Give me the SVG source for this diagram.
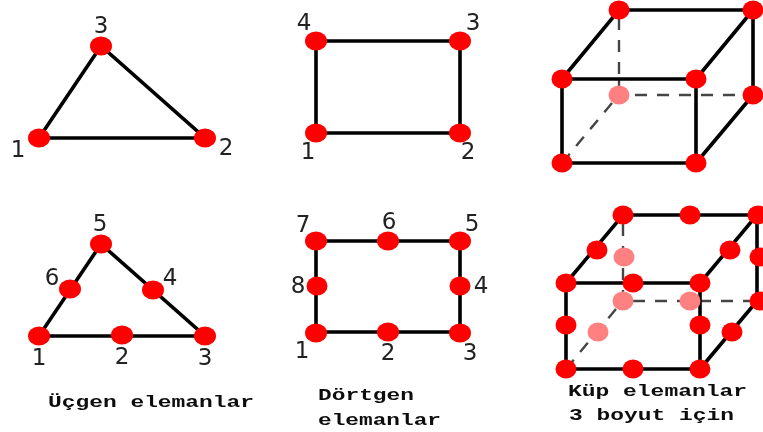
<svg xmlns="http://www.w3.org/2000/svg" width="763" height="432" viewBox="0 0 763 432">
<defs><filter id="soft" filterUnits="userSpaceOnUse" x="0" y="0" width="763" height="432"><feGaussianBlur stdDeviation="0.55"/></filter></defs>
<style>
.e{stroke:#000;stroke-width:3.6;fill:none}
.d{stroke:#444;stroke-width:2.4;fill:none;stroke-dasharray:12 10}
.n{fill:#f00}
.p{fill:#ff8080}
.l{font-family:"DejaVu Sans",sans-serif;font-size:23px;fill:#222;text-anchor:middle}
.c{font-family:"Liberation Mono",monospace;font-weight:bold;font-size:17px;fill:#111}
ellipse,text,path{filter:url(#soft)}
</style>
<rect width="763" height="432" fill="#fff"/>
<g id="connectors">
<path class="e" d="M39 138L101 46L205 138Z"/>
<path class="e" d="M316 41H460V133H316Z"/>
<path class="d" d="M619 18V79"/>
<path class="d" stroke-dasharray="12 11" d="M635 95H753"/>
<path class="d" d="M619 79V95"/>
<path class="d" d="M612 103L562 163"/>
<path class="e" d="M562 79H696V163H562Z M562 79L619 10H753L696 79 M753 10V95L696 163"/>
<path class="e" d="M39 336L101 244L205 336Z"/>
<path class="e" d="M316 241H460V332H316Z"/>
<path class="d" d="M623 224V301"/>
<path class="d" d="M633 301H757"/>
<path class="d" d="M616 309L566 369"/>
<path class="e" d="M566 283H700V369H566Z M566 283L623 215H757L700 283 M757 215V301L700 369"/>
</g>
<g id="tri3-1"><ellipse class="n" cx="39" cy="138" rx="11" ry="9.5"/><text class="l" x="18" y="157">1</text></g>
<g id="tri3-2"><ellipse class="n" cx="205" cy="138" rx="11" ry="9.5"/><text class="l" x="226" y="155">2</text></g>
<g id="tri3-3"><ellipse class="n" cx="101" cy="46" rx="11" ry="9.5"/><text class="l" x="101" y="33">3</text></g>
<g id="quad4-1"><ellipse class="n" cx="316" cy="133" rx="11" ry="9.5"/><text class="l" x="308" y="159">1</text></g>
<g id="quad4-2"><ellipse class="n" cx="460" cy="133" rx="11" ry="9.5"/><text class="l" x="468" y="159">2</text></g>
<g id="quad4-3"><ellipse class="n" cx="460" cy="41" rx="11" ry="9.5"/><text class="l" x="473" y="30">3</text></g>
<g id="quad4-4"><ellipse class="n" cx="316" cy="41" rx="11" ry="9.5"/><text class="l" x="304" y="30">4</text></g>
<g id="cube8-1"><ellipse class="n" cx="619" cy="10" rx="10.5" ry="9.5"/></g>
<g id="cube8-2"><ellipse class="n" cx="753" cy="10" rx="10.5" ry="9.5"/></g>
<g id="cube8-3"><ellipse class="n" cx="562" cy="79" rx="10.5" ry="9.5"/></g>
<g id="cube8-4"><ellipse class="n" cx="696" cy="79" rx="10.5" ry="9.5"/></g>
<g id="cube8-5"><ellipse class="p" cx="619" cy="95" rx="10.5" ry="9.5"/></g>
<g id="cube8-6"><ellipse class="n" cx="753" cy="95" rx="10.5" ry="9.5"/></g>
<g id="cube8-7"><ellipse class="n" cx="562" cy="163" rx="10.5" ry="9.5"/></g>
<g id="cube8-8"><ellipse class="n" cx="696" cy="163" rx="10.5" ry="9.5"/></g>
<g id="tri6-1"><ellipse class="n" cx="39" cy="336" rx="11" ry="9.5"/><text class="l" x="39" y="365">1</text></g>
<g id="tri6-2"><ellipse class="n" cx="122" cy="335" rx="11" ry="9.5"/><text class="l" x="122" y="364">2</text></g>
<g id="tri6-3"><ellipse class="n" cx="205" cy="336" rx="11" ry="9.5"/><text class="l" x="205" y="365">3</text></g>
<g id="tri6-4"><ellipse class="n" cx="153" cy="290" rx="11" ry="9.5"/><text class="l" x="170" y="285">4</text></g>
<g id="tri6-5"><ellipse class="n" cx="101" cy="244" rx="11" ry="9.5"/><text class="l" x="100" y="231">5</text></g>
<g id="tri6-6"><ellipse class="n" cx="70" cy="289" rx="11" ry="9.5"/><text class="l" x="52" y="285">6</text></g>
<g id="quad8-1"><ellipse class="n" cx="316" cy="333" rx="11" ry="9.5"/><text class="l" x="302" y="358">1</text></g>
<g id="quad8-2"><ellipse class="n" cx="388" cy="332" rx="11" ry="9.5"/><text class="l" x="388" y="360">2</text></g>
<g id="quad8-3"><ellipse class="n" cx="460" cy="333" rx="11" ry="9.5"/><text class="l" x="470" y="360">3</text></g>
<g id="quad8-4"><ellipse class="n" cx="460" cy="286" rx="10.5" ry="9.5"/><text class="l" x="481" y="293">4</text></g>
<g id="quad8-5"><ellipse class="n" cx="460" cy="241" rx="11" ry="9.5"/><text class="l" x="472" y="231">5</text></g>
<g id="quad8-6"><ellipse class="n" cx="388" cy="241" rx="11" ry="9.5"/><text class="l" x="389" y="229">6</text></g>
<g id="quad8-7"><ellipse class="n" cx="316" cy="241" rx="11" ry="9.5"/><text class="l" x="303" y="232">7</text></g>
<g id="quad8-8"><ellipse class="n" cx="317" cy="286" rx="10.5" ry="9.5"/><text class="l" x="298" y="293">8</text></g>
<g id="cube20-1"><ellipse class="n" cx="623" cy="215" rx="10.5" ry="9.5"/></g>
<g id="cube20-2"><ellipse class="n" cx="690" cy="215" rx="10.5" ry="9.5"/></g>
<g id="cube20-3"><ellipse class="n" cx="758" cy="215" rx="10.5" ry="9.5"/></g>
<g id="cube20-4"><ellipse class="n" cx="597" cy="250" rx="10.5" ry="9.5"/></g>
<g id="cube20-5"><ellipse class="p" cx="624" cy="257" rx="10.5" ry="9.5"/></g>
<g id="cube20-6"><ellipse class="n" cx="730" cy="250" rx="10.5" ry="9.5"/></g>
<g id="cube20-7"><ellipse class="n" cx="760" cy="257" rx="10.5" ry="9.5"/></g>
<g id="cube20-8"><ellipse class="n" cx="566" cy="283" rx="10.5" ry="9.5"/></g>
<g id="cube20-9"><ellipse class="n" cx="633" cy="283" rx="10.5" ry="9.5"/></g>
<g id="cube20-10"><ellipse class="n" cx="700" cy="283" rx="10.5" ry="9.5"/></g>
<g id="cube20-11"><ellipse class="p" cx="623" cy="301" rx="10.5" ry="9.5"/></g>
<g id="cube20-12"><ellipse class="p" cx="690" cy="301" rx="10.5" ry="9.5"/></g>
<g id="cube20-13"><ellipse class="n" cx="760" cy="301" rx="10.5" ry="9.5"/></g>
<g id="cube20-14"><ellipse class="n" cx="566" cy="325" rx="10.5" ry="9.5"/></g>
<g id="cube20-15"><ellipse class="n" cx="700" cy="325" rx="10.5" ry="9.5"/></g>
<g id="cube20-16"><ellipse class="p" cx="598" cy="332" rx="10.5" ry="9.5"/></g>
<g id="cube20-17"><ellipse class="n" cx="732" cy="332" rx="10.5" ry="9.5"/></g>
<g id="cube20-18"><ellipse class="n" cx="566" cy="369" rx="10.5" ry="9.5"/></g>
<g id="cube20-19"><ellipse class="n" cx="633" cy="369" rx="10.5" ry="9.5"/></g>
<g id="cube20-20"><ellipse class="n" cx="700" cy="369" rx="10.5" ry="9.5"/></g>
<g id="captions">
<text class="c" x="48" y="407" textLength="206" lengthAdjust="spacingAndGlyphs">Üçgen elemanlar</text>
<text class="c" x="318" y="400" textLength="96" lengthAdjust="spacingAndGlyphs">Dörtgen</text>
<text class="c" x="318" y="425" textLength="123" lengthAdjust="spacingAndGlyphs">elemanlar</text>
<text class="c" x="568" y="396" textLength="179" lengthAdjust="spacingAndGlyphs">Küp elemanlar</text>
<text class="c" x="569" y="420" textLength="165" lengthAdjust="spacingAndGlyphs">3 boyut için</text>
</g>
</svg>
